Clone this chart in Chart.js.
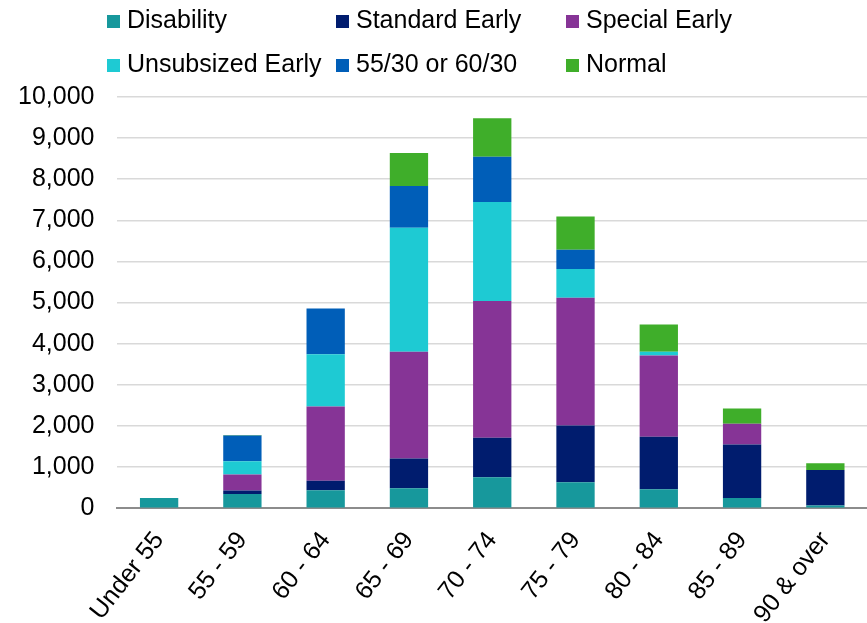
<!DOCTYPE html>
<html>
<head>
<meta charset="utf-8">
<script src="https://cdn.jsdelivr.net/npm/chart.js@4"></script>
<style>
  html, body { margin: 0; padding: 0; background: #fff; }
  #wrap { position: relative; width: 867px; height: 623px; overflow: hidden; }
  #chart { position: absolute; left: 0; top: 0; }
  #legend { position: absolute; left: 0; top: 0; width: 867px; height: 88px; font-family: "Liberation Sans", Arial, sans-serif; font-size: 25px; color: #000; }
  .lg { position: absolute; display: flex; align-items: center; white-space: nowrap; line-height: 1; }
  .lg i { display: inline-block; width: 13px; height: 13px; margin-right: 7px; margin-top: 3px; }
</style>
</head>
<body>
<div id="wrap">
  <!-- canvas is a bit taller than the frame so the bottom label gets cut like the original -->
  <canvas id="chart" width="867" height="647"></canvas>
  <div id="legend"></div>
</div>
<script>
const categories = ['Under 55', '55 - 59', '60 - 64', '65 - 69', '70 - 74', '75 - 79', '80 - 84', '85 - 89', '90 & over'];
const disability = [250, 348, 435, 487, 754, 633, 462, 251, 65];
const standardEarly = [0, 82, 230, 722, 957, 1379, 1273, 1299, 867];
const specialEarly = [0, 390, 1809, 2595, 3325, 3105, 1980, 502, 0];
const unsubsizedEarly = [0, 324, 1273, 3017, 2409, 698, 88, 0, 0];
const fiftyFive30 = [0, 624, 1111, 1014, 1103, 470, 0, 0, 0];
const normal = [0, 12, 0, 802, 933, 811, 667, 373, 163];
const yTickLabels = ['0', '1,000', '2,000', '3,000', '4,000', '5,000', '6,000', '7,000', '8,000', '9,000', '10,000'];

const FONT = '"Liberation Sans", Arial, sans-serif';

const series = [
  { label: 'Disability', data: disability, color: '#17989C' },
  { label: 'Standard Early', data: standardEarly, color: '#001C6E' },
  { label: 'Special Early', data: specialEarly, color: '#863496' },
  { label: 'Unsubsized Early', data: unsubsizedEarly, color: '#1ECAD3' },
  { label: '55/30 or 60/30', data: fiftyFive30, color: '#005EB8' },
  { label: 'Normal', data: normal, color: '#3FAE2A' },
];

// legend laid out in a 3 x 2 grid like the original
const legendCols = [107, 336, 566];
const legendRows = [7, 51];
document.getElementById('legend').innerHTML = series.map((s, i) => {
  const left = legendCols[i % 3];
  const top = legendRows[Math.floor(i / 3)];
  return `<div class="lg" style="left:${left}px;top:${top}px"><i style="background:${s.color}"></i>${s.label}</div>`;
}).join('');

new Chart(document.getElementById('chart'), {
  type: 'bar',
  data: {
    labels: categories,
    datasets: series.map((s) => ({
      label: s.label,
      data: s.data,
      backgroundColor: s.color,
      borderWidth: 0,
      categoryPercentage: 1,
      barPercentage: 0.46,
    })),
  },
  options: {
    responsive: false,
    animation: false,
    // negative left padding cancels the room chart.js keeps for the first rotated label
    layout: { padding: { top: 97, right: 0, left: -5, bottom: 0 } },
    plugins: { legend: { display: false }, tooltip: { enabled: false } },
    scales: {
      x: {
        stacked: true,
        grid: { display: false, drawTicks: false },
        border: { color: '#8c8c8c', width: 2 },
        ticks: { color: '#000', font: { family: FONT, size: 25 }, minRotation: 52, maxRotation: 52, padding: 18, autoSkip: false },
      },
      y: {
        stacked: true,
        min: 0,
        max: 10000,
        grid: { color: '#d9d9d9', lineWidth: 1.5, drawTicks: false },
        border: { display: false },
        ticks: {
          stepSize: 1000,
          padding: 23,
          color: '#000',
          font: { family: FONT, size: 25 },
          callback: (v, i) => yTickLabels[i],
        },
      },
    },
  },
});
</script>
</body>
</html>
